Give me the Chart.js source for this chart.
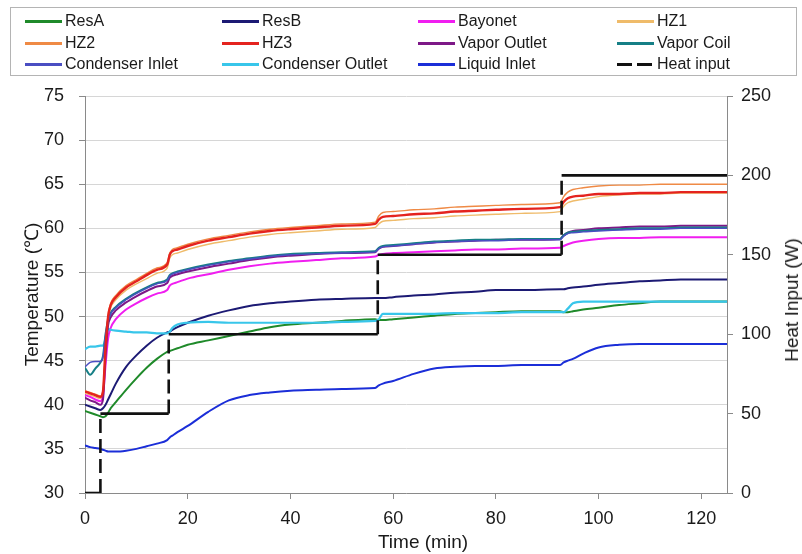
<!DOCTYPE html>
<html>
<head>
<meta charset="utf-8">
<script src="https://cdn.jsdelivr.net/npm/chart.js@4/dist/chart.umd.min.js"></script>
<style>
  html, body { margin: 0; padding: 0; background: #fff; }
  #wrap { position: relative; width: 802px; height: 554px; overflow: hidden;
          font-family: "Liberation Sans", Arial, sans-serif; color: #1a1a1a; }
  #chart { position: absolute; left: 0; top: 0; }
  #legendBox { position: absolute; left: 10px; top: 7px; width: 785px; height: 67px;
               border: 1px solid #b4b4b4; }
  .item { position: absolute; height: 20px; line-height: 20px; font-size: 16px; white-space: nowrap; }
  .swatch { position: absolute; left: 0; top: 9px; width: 37px; height: 2.6px; }
  .item span { position: absolute; left: 40px; top: 0; }
  .axisTitle { position: absolute; white-space: nowrap; font-size: 19px; line-height: 22px; }
  #xtitle { left: 423px; top: 542px; transform: translate(-50%, -50%); }
  #y2title { left: 792px; top: 300px; transform: translate(-50%, -50%) rotate(-90deg); }
</style>
</head>
<body>
<div id="wrap">
  <canvas id="chart" width="802" height="554"></canvas>
  <div id="legendBox"></div>
  <div id="xtitle" class="axisTitle">Time (min)</div>
  <div id="y2title" class="axisTitle">Heat Input (W)</div>
</div>
<script>
// Time base shared by all temperature series (minutes)
const timeMin = [0, 1, 2, 3, 3.5, 4, 4.5, 5, 6, 8,
  10, 12, 14, 16, 16.5, 17, 18, 20, 24, 28,
  32, 36, 40, 45, 50, 56.5, 57.2, 58, 60, 64,
  68, 72, 76, 80, 85, 92.5, 93.2, 94, 95, 97,
  100, 104, 108, 112, 116, 120, 125];

// Temperatures (°C)
const resA = [39.3, 39.1, 38.9, 38.7, 38.6, 38.7, 39.1, 39.6, 40.3, 41.7,
  43.0, 44.2, 45.2, 46.0, 46.1, 46.2, 46.4, 46.8, 47.3, 47.8,
  48.3, 48.8, 49.1, 49.3, 49.5, 49.7, 49.6, 49.6, 49.7, 49.9,
  50.1, 50.3, 50.4, 50.5, 50.6, 50.6, 50.5, 50.5, 50.6, 50.8,
  51.0, 51.3, 51.5, 51.7, 51.7, 51.7, 51.7];
const resB = [40.0, 39.8, 39.6, 39.4, 39.6, 40.0, 40.6, 41.2, 42.4, 44.3,
  45.6, 46.7, 47.6, 48.2, 48.3, 48.5, 48.8, 49.3, 50.1, 50.7,
  51.2, 51.5, 51.7, 51.9, 52.0, 52.1, 52.1, 52.1, 52.2, 52.4,
  52.5, 52.7, 52.8, 53.0, 53.0, 53.1, 53.1, 53.2, 53.3, 53.4,
  53.6, 53.8, 54.0, 54.1, 54.2, 54.2, 54.2];
const bayonet = [41.1, 40.9, 40.6, 40.4, 41.0, 44.5, 47.5, 48.7, 49.7, 50.8,
  51.5, 52.1, 52.6, 53.0, 53.5, 53.7, 53.9, 54.3, 54.8, 55.3,
  55.7, 56.0, 56.2, 56.4, 56.6, 56.8, 57.0, 57.1, 57.2, 57.3,
  57.4, 57.5, 57.6, 57.6, 57.7, 57.8, 58.0, 58.2, 58.4, 58.6,
  58.8, 58.9, 58.9, 59.0, 59.0, 59.0, 59.0];
const hz1 = [41.3, 41.1, 40.9, 40.7, 41.3, 46.2, 49.7, 51.0, 51.9, 53.0,
  53.7, 54.3, 54.9, 55.5, 56.6, 57.0, 57.2, 57.6, 58.2, 58.6,
  59.0, 59.3, 59.5, 59.7, 59.9, 60.1, 60.5, 60.8, 60.9, 61.1,
  61.2, 61.4, 61.5, 61.6, 61.7, 61.9, 62.5, 62.9, 63.1, 63.3,
  63.6, 63.8, 63.9, 63.9, 64.0, 64.0, 64.0];
const hz2 = [41.6, 41.4, 41.2, 41.0, 41.6, 46.7, 50.2, 51.5, 52.4, 53.5,
  54.2, 54.9, 55.5, 56.1, 57.2, 57.6, 57.8, 58.2, 58.8, 59.2,
  59.6, 59.9, 60.1, 60.3, 60.5, 60.7, 61.4, 61.8, 61.9, 62.1,
  62.2, 62.4, 62.5, 62.6, 62.7, 62.9, 63.6, 64.1, 64.4, 64.6,
  64.8, 64.9, 64.9, 65.0, 65.0, 65.0, 65.0];
const hz3 = [41.5, 41.3, 41.1, 40.9, 41.5, 46.5, 50.0, 51.3, 52.2, 53.3,
  54.0, 54.7, 55.3, 55.9, 57.0, 57.4, 57.6, 58.0, 58.6, 59.0,
  59.4, 59.7, 59.9, 60.1, 60.3, 60.5, 61.0, 61.3, 61.4, 61.6,
  61.7, 61.9, 62.0, 62.1, 62.2, 62.4, 63.0, 63.4, 63.6, 63.7,
  63.9, 63.9, 64.0, 64.0, 64.1, 64.1, 64.1];
const vaporOutlet = [40.8, 40.5, 40.3, 40.0, 40.6, 45.5, 49.0, 49.9, 50.7, 51.6,
  52.3, 52.9, 53.4, 53.8, 54.4, 54.6, 54.8, 55.1, 55.6, 56.0,
  56.4, 56.7, 56.9, 57.1, 57.2, 57.3, 57.7, 57.9, 58.0, 58.2,
  58.4, 58.5, 58.6, 58.7, 58.7, 58.8, 59.2, 59.5, 59.7, 59.8,
  60.0, 60.1, 60.2, 60.2, 60.3, 60.3, 60.3];
const vaporCoil = [44.2, 43.4, 44.1, 44.8, 45.5, 48.0, 49.6, 50.4, 51.1, 52.0,
  52.7, 53.3, 53.8, 54.2, 54.7, 54.9, 55.1, 55.4, 55.9, 56.3,
  56.6, 56.9, 57.1, 57.2, 57.3, 57.4, 57.8, 58.0, 58.1, 58.3,
  58.5, 58.6, 58.7, 58.7, 58.8, 58.8, 59.2, 59.5, 59.6, 59.7,
  59.8, 59.9, 60.0, 60.0, 60.1, 60.1, 60.1];
const condenserInlet = [44.3, 44.8, 44.9, 44.9, 45.4, 47.9, 49.5, 50.3, 51.0, 51.9,
  52.6, 53.2, 53.7, 54.1, 54.6, 54.8, 55.0, 55.3, 55.8, 56.2,
  56.5, 56.8, 57.0, 57.1, 57.2, 57.3, 57.7, 57.9, 58.0, 58.2,
  58.4, 58.5, 58.6, 58.6, 58.7, 58.7, 59.1, 59.4, 59.5, 59.6,
  59.7, 59.8, 59.9, 59.9, 60.0, 60.0, 60.0];
const condenserOutlet = [46.3, 46.6, 46.6, 46.7, 46.7, 47.5, 48.6, 48.5, 48.4, 48.3,
  48.2, 48.2, 48.1, 48.1, 48.3, 48.7, 49.1, 49.3, 49.4, 49.3,
  49.3, 49.3, 49.3, 49.3, 49.4, 49.5, 49.7, 50.3, 50.3, 50.3,
  50.3, 50.4, 50.4, 50.4, 50.5, 50.5, 50.5, 50.9, 51.5, 51.7,
  51.7, 51.7, 51.7, 51.7, 51.7, 51.7, 51.7];
const liquidInlet = [35.4, 35.2, 35.1, 35.0, 34.9, 34.8, 34.7, 34.7, 34.7, 34.8,
  35.0, 35.3, 35.6, 36.0, 36.3, 36.5, 36.9, 37.6, 39.2, 40.5,
  41.1, 41.4, 41.6, 41.7, 41.8, 41.9, 42.2, 42.4, 42.7, 43.5,
  44.1, 44.3, 44.4, 44.4, 44.5, 44.5, 44.8, 45.0, 45.2, 45.8,
  46.5, 46.8, 46.9, 46.9, 46.9, 46.9, 46.9];

// Heater power steps: time each level starts (min) and its power (W)
const heatStepTime = [0, 3, 16.3, 57, 92.8];
const heatStepPower = [0, 50, 100, 150, 200];

// Axis tick labels
const timeTicks = [0, 20, 40, 60, 80, 100, 120];
const tempTicks = [30, 35, 40, 45, 50, 55, 60, 65, 70, 75];
const powerTicks = [0, 50, 100, 150, 200, 250];

const FONT = '"Liberation Sans", Arial, sans-serif';
const endTime = timeMin[timeMin.length - 1];

function pts(values) {
  return values.map((v, i) => ({ x: timeMin[i], y: v }));
}

// Step profile: a flat run at each level, joined by vertical risers
const heatPoints = [];
heatStepTime.forEach((t, i) => {
  const tNext = i + 1 < heatStepTime.length ? heatStepTime[i + 1] : endTime;
  heatPoints.push({ x: t, y: heatStepPower[i] });
  heatPoints.push({ x: tNext, y: heatStepPower[i] });
});

// label, values, colour, width, draw order (lower = on top)
const series = [
  ['ResA', resA, '#1f8a2a', 2, 6],
  ['ResB', resB, '#1c1a74', 2, 6],
  ['Bayonet', bayonet, '#f01ef0', 2, 7],
  ['HZ1', hz1, '#efbb6a', 1.4, 9],
  ['HZ2', hz2, '#ef8a45', 1.4, 9],
  ['HZ3', hz3, '#e4231f', 2.4, 2],
  ['Vapor Outlet', vaporOutlet, '#7d1887', 2, 5],
  ['Vapor Coil', vaporCoil, '#167f86', 2, 4],
  ['Condenser Inlet', condenserInlet, '#4a4ec2', 1.4, 3],
  ['Condenser Outlet', condenserOutlet, '#38c6ea', 2.2, 5],
  ['Liquid Inlet', liquidInlet, '#1b2ed8', 2, 2]
];

const datasets = series.map(([label, values, color, width, order]) => ({
  label,
  data: pts(values),
  borderColor: color,
  backgroundColor: color,
  borderWidth: width,
  pointRadius: 0,
  cubicInterpolationMode: 'monotone',
  yAxisID: 'y',
  order
}));

datasets.push({
  label: 'Heat input',
  data: heatPoints,
  borderColor: '#111',
  backgroundColor: '#111',
  borderWidth: 2.6,
  pointRadius: 0,
  tension: 0,
  yAxisID: 'y2',
  order: 0,
  segment: {
    borderDash: c => (c.p0.parsed.x === c.p1.parsed.x ? [14, 6] : undefined)
  }
});

// Legend laid out as a 4-column grid
const legendCols = [25, 222, 418, 617];
const legendRows = [21, 43, 64];
const wrap = document.getElementById('wrap');
datasets.forEach((ds, i) => {
  const item = document.createElement('div');
  item.className = 'item';
  item.style.left = legendCols[i % 4] + 'px';
  item.style.top = (legendRows[Math.floor(i / 4)] - 10) + 'px';
  const sw = document.createElement('div');
  sw.className = 'swatch';
  if (ds.yAxisID === 'y2') {
    sw.style.background = 'repeating-linear-gradient(to right, #111 0 15px, transparent 15px 20px)';
    sw.style.width = '35px';
  } else {
    sw.style.background = ds.borderColor;
  }
  const tx = document.createElement('span');
  tx.textContent = ds.label;
  item.appendChild(sw);
  item.appendChild(tx);
  wrap.appendChild(item);
});

const tickFont = { family: FONT, size: 18 };
const titleFont = { family: FONT, size: 19 };
const setTicks = list => scale => { scale.ticks = list.map(v => ({ value: v })); };

new Chart(document.getElementById('chart'), {
  type: 'line',
  data: { datasets },
  options: {
    responsive: false,
    animation: false,
    devicePixelRatio: 1,
    layout: { padding: { top: 96, left: 0, right: 0, bottom: 0 } },
    plugins: { legend: { display: false }, tooltip: { enabled: false } },
    scales: {
      x: {
        type: 'linear',
        position: 'bottom',
        min: 0,
        max: 125,
        afterBuildTicks: setTicks(timeTicks),
        afterFit: s => { s.height = 61; },
        grid: { drawOnChartArea: false, drawTicks: true, tickLength: 6, tickColor: '#8a8a8a' },
        border: { color: '#8a8a8a', width: 1 },
        ticks: { font: tickFont, color: '#1a1a1a', padding: 9, maxRotation: 0 }
      },
      y: {
        type: 'linear',
        position: 'left',
        min: 30,
        max: 75,
        afterBuildTicks: setTicks(tempTicks),
        afterFit: s => { s.width = 85; },
        grid: { color: '#d6d6d6', lineWidth: 1, drawTicks: true, tickLength: 6, tickColor: '#8a8a8a' },
        border: { color: '#8a8a8a', width: 1 },
        ticks: { font: tickFont, color: '#1a1a1a', padding: 15 },
        title: { display: true, text: 'Temperature (\u2103)', font: titleFont, color: '#1a1a1a',
                 padding: { top: 21, bottom: 0 } }
      },
      y2: {
        type: 'linear',
        position: 'right',
        min: 0,
        max: 250,
        afterBuildTicks: setTicks(powerTicks),
        afterFit: s => { s.width = 75; },
        grid: { drawOnChartArea: false, drawTicks: true, tickLength: 6, tickColor: '#8a8a8a' },
        border: { color: '#8a8a8a', width: 1 },
        ticks: { font: tickFont, color: '#1a1a1a', padding: 8 }
      }
    }
  }
});
</script>
</body>
</html>
